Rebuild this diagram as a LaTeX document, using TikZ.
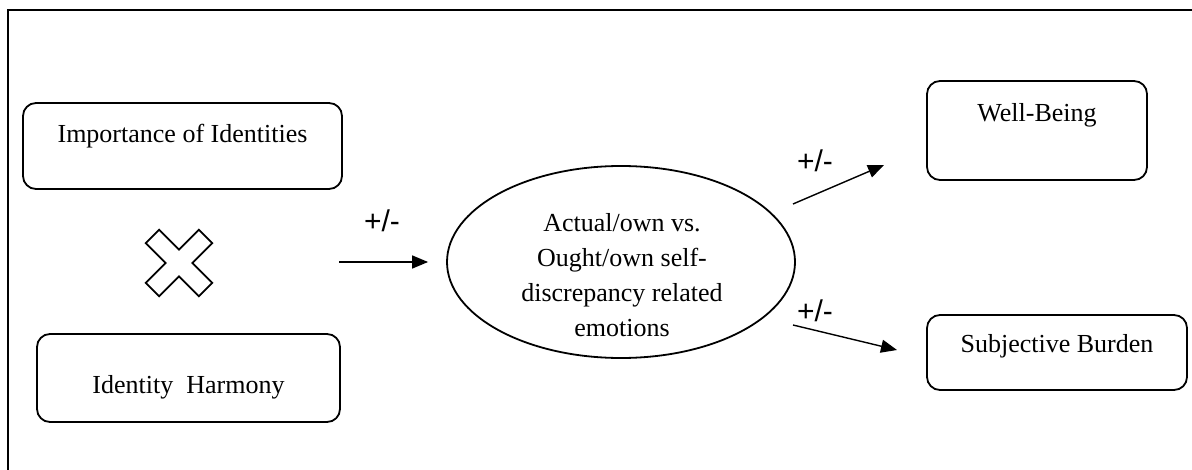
\documentclass[tikz,border=0pt]{standalone}
\usepackage{fontspec}
\setmainfont{Liberation Serif}
\newfontfamily\arialfont{Liberation Sans}
\usetikzlibrary{arrows.meta,shapes.geometric}
\begin{document}
\begin{tikzpicture}
[x=0.5pt,y=-0.5pt,line width=0.9pt,%
  every node/.style={font=\fontsize{13}{17.5}\selectfont},%
  box/.style={draw,rounded corners=6.5pt,inner sep=0pt},%
  pm/.style={font=\arialfont\fontsize{15}{18}\selectfont,inner sep=0pt},%
  pil/.style={-{Triangle[length=8pt,width=6.5pt]},line width=0.7pt}]
\useasboundingbox (0,0) rectangle (1192,470);
\draw[line width=1pt] (1192,10) -- (8,10) -- (8,470);
% left side
\node[box,minimum width=159.5pt,minimum height=43pt,text height=9pt,text depth=12pt]
  (imp) at (182.5,146) {Importance of Identities};
\node[box,minimum width=151.5pt,minimum height=44pt,text height=18pt,text depth=3pt]
  (harm) at (188.5,378) {Identity\ \ Harmony};
\coordinate (xmark) at (179,263);
\draw[shift={(xmark)},rotate=45]
  (-37.5,-9.5) -- (-9.5,-9.5) -- (-9.5,-37.5) -- (9.5,-37.5) -- (9.5,-9.5)
  -- (37.5,-9.5) -- (37.5,9.5) -- (9.5,9.5) -- (9.5,37.5) -- (-9.5,37.5)
  -- (-9.5,9.5) -- (-37.5,9.5) -- cycle;
% middle
\node[draw,ellipse,minimum width=174pt,minimum height=96pt] (emo) at (621,262) {};
\node[align=center] (emotxt) at (622,275)
  {Actual/own vs.\\Ought/own self-\\discrepancy related\\emotions};
% right side
\node[box,minimum width=110pt,minimum height=49.5pt,text height=9pt,text depth=17.5pt]
  (wb) at (1037,130.5) {Well-Being};
\node[box,minimum width=130pt,minimum height=37.5pt,text height=6pt,text depth=6pt]
  (sb) at (1057,352.5) {Subjective Burden};
% arrows
\coordinate (in0) at (339,262);
\coordinate (wb0) at (793,204);
\coordinate (wb1) at (884,165);
\coordinate (sb0) at (793,325);
\coordinate (sb1) at (897,350);
\draw[pil,shorten >=9pt] (in0) -- (emo.west);
\draw[pil] (wb0) -- (wb1);
\draw[pil] (sb0) -- (sb1);
\node[pm] (pm1) at (382,221) {+/-};
\node[pm] (pm2) at (815,161) {+/-};
\node[pm] (pm3) at (815,311) {+/-};
\end{tikzpicture}
\end{document}
